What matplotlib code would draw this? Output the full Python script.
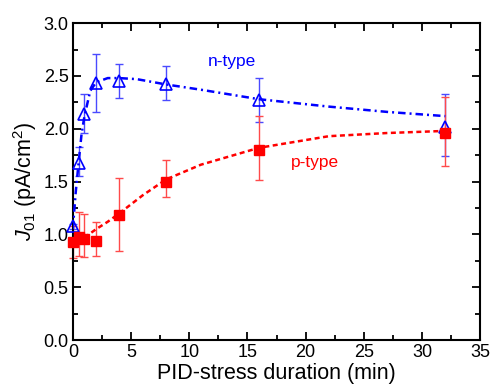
import matplotlib
matplotlib.use("Agg")
import matplotlib.pyplot as plt
import numpy as np

plt.rcParams['font.family'] = ['Liberation Sans', 'DejaVu Sans']
plt.rcParams['mathtext.fontset'] = 'custom'
plt.rcParams['mathtext.rm'] = 'Liberation Sans'
plt.rcParams['mathtext.it'] = 'Liberation Sans:italic'

# measured points
t_n = [0, 0.5, 1, 2, 4, 8, 16, 32]
j_n = [1.08, 1.68, 2.14, 2.43, 2.45, 2.42, 2.27, 2.02]
j_n_hi = [1.10, 1.83, 2.33, 2.71, 2.61, 2.59, 2.48, 2.33]
j_n_lo = [1.05, 1.55, 1.96, 2.16, 2.29, 2.27, 2.06, 1.74]

t_p = [0, 0.5, 1, 2, 4, 8, 16, 32]
j_p = [0.93, 0.98, 0.96, 0.94, 1.18, 1.50, 1.80, 1.96]
j_p_hi = [1.08, 1.21, 1.19, 1.12, 1.53, 1.70, 2.12, 2.30]
j_p_lo = [0.78, 0.80, 0.79, 0.80, 0.84, 1.35, 1.52, 1.65]

# fitted curves
fit_n_t = [0, 0.25, 0.5, 0.75, 1, 1.5, 2, 3, 4, 5.5, 8, 11, 16, 22, 27, 32]
fit_n_j = [1.05, 1.40, 1.68, 1.95, 2.12, 2.36, 2.44, 2.48, 2.48, 2.47, 2.42, 2.37, 2.28, 2.21, 2.16, 2.12]
fit_p_t = [1, 1.5, 2, 3, 4, 6, 8, 11, 16, 22, 27, 32]
fit_p_j = [0.97, 1.01, 1.05, 1.12, 1.20, 1.37, 1.52, 1.66, 1.82, 1.93, 1.96, 1.98]

blue = '#0000ff'
red = '#ff0000'

fig = plt.figure(figsize=(4.92, 3.86), dpi=100)
ax = fig.add_axes([0.148, 0.119, 0.828, 0.821])

j_n = np.array(j_n); j_p = np.array(j_p)
eb = ax.errorbar(t_n, j_n, yerr=[j_n - np.array(j_n_lo), np.array(j_n_hi) - j_n],
                 fmt='none', ecolor='#4a4aff', elinewidth=1, capsize=3, capthick=1, zorder=2)
for a in eb.lines[1] + eb.lines[2]:
    a.set_clip_on(False)
eb = ax.errorbar(t_p, j_p, yerr=[j_p - np.array(j_p_lo), np.array(j_p_hi) - j_p],
                 fmt='none', ecolor='#ff4a4a', elinewidth=1, capsize=3, capthick=1, zorder=2)
for a in eb.lines[1] + eb.lines[2]:
    a.set_clip_on(False)

ax.plot(fit_n_t, fit_n_j, color=blue, lw=1.8, ls=(0, (3.0, 1.6, 0.8, 1.6)), zorder=3)
ax.plot(fit_p_t, fit_p_j, color=red, lw=1.8, ls=(0, (2.0, 1.4)), zorder=3)

ax.plot(t_n, j_n, ls='none', marker='^', ms=8, mfc='none', mec=blue, mew=1.2, zorder=4, clip_on=False)
ax.plot(t_p, j_p, ls='none', marker='s', ms=7, mfc=red, mec=red, zorder=4, clip_on=False)

ax.text(13.7, 2.64, 'n-type', color=blue, fontsize=12.5, ha='center', va='center')
ax.text(20.8, 1.68, 'p-type', color=red, fontsize=12.5, ha='center', va='center')

ax.set_xlim(0, 35)
ax.set_ylim(0, 3.0)
ax.set_xticks(np.arange(0, 36, 5))
ax.set_xticks(np.arange(0, 35.1, 2.5), minor=True)
ax.set_yticks(np.arange(0, 3.01, 0.5))
ax.set_yticks(np.arange(0, 3.01, 0.25), minor=True)
ax.yaxis.set_major_formatter(matplotlib.ticker.FormatStrFormatter('%.1f'))
ax.tick_params(which='both', direction='in', top=True, right=True, width=1.3, labelsize=13, colors='black')
ax.tick_params(which='major', length=6, pad=3)
ax.tick_params(which='minor', length=3.5)
for s in ax.spines.values():
    s.set_linewidth(1.5)

ax.set_xlabel('PID-stress duration (min)', fontsize=15.5, labelpad=1)
ax.set_ylabel('$J_{01}$ (pA/cm$^2$)', fontsize=15.5, labelpad=3)

fig.savefig('out.png', dpi=100)
